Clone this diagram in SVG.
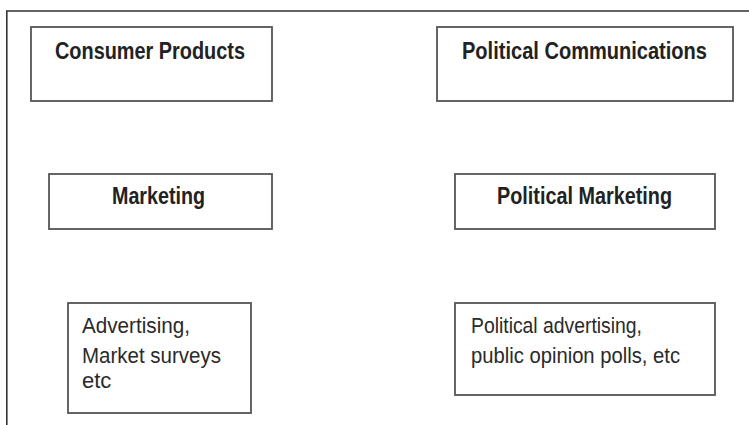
<svg xmlns="http://www.w3.org/2000/svg" width="749" height="425" viewBox="0 0 749 425">
<style>
.box{fill:#fff;stroke:#555;stroke-width:1.8}
.frame{fill:none;stroke:#333;stroke-width:1.6}
.t{font-family:"Liberation Sans",Arial,sans-serif;fill:#222}
.b{font-weight:bold;font-size:23px}
.n{font-size:22px;fill:#2a2a2a}
</style>
<rect width="749" height="425" fill="#fff"/>
<path class="frame" d="M6.8,425 V11 H749"/>
<g id="connectors"></g>
<g id="consumer-products">
<rect class="box" x="31" y="27" width="241" height="74"/>
<text class="t b" x="55" y="59" textLength="190" lengthAdjust="spacingAndGlyphs">Consumer Products</text>
</g>
<g id="political-communications">
<rect class="box" x="437" y="27" width="296" height="74"/>
<text class="t b" x="462" y="59" textLength="245" lengthAdjust="spacingAndGlyphs">Political Communications</text>
</g>
<g id="marketing">
<rect class="box" x="49" y="174" width="223" height="55"/>
<text class="t b" x="112" y="203.5" textLength="93" lengthAdjust="spacingAndGlyphs">Marketing</text>
</g>
<g id="political-marketing">
<rect class="box" x="455" y="174" width="260" height="55"/>
<text class="t b" x="497" y="203.5" textLength="175" lengthAdjust="spacingAndGlyphs">Political Marketing</text>
</g>
<g id="advertising">
<rect class="box" x="68" y="303" width="183" height="110"/>
<text class="t n" x="82" y="332.5" textLength="108" lengthAdjust="spacingAndGlyphs">Advertising,</text>
<text class="t n" x="82" y="362.5" textLength="139" lengthAdjust="spacingAndGlyphs">Market surveys</text>
<text class="t n" x="82" y="388">etc</text>
</g>
<g id="political-advertising">
<rect class="box" x="455" y="303" width="260" height="92"/>
<text class="t n" x="471" y="332.5" textLength="171" lengthAdjust="spacingAndGlyphs">Political advertising,</text>
<text class="t n" x="471" y="362.5" textLength="209" lengthAdjust="spacingAndGlyphs">public opinion polls, etc</text>
</g>
</svg>
